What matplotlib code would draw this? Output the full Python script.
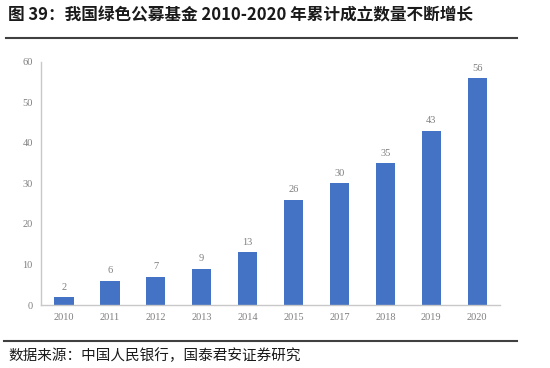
import matplotlib.pyplot as plt
from matplotlib.lines import Line2D

years = ['2010', '2011', '2012', '2013', '2014', '2015', '2017', '2018', '2019', '2020']
counts = [2, 6, 7, 9, 13, 26, 30, 35, 43, 56]
yticks = [0, 10, 20, 30, 40, 50, 60]

title = '图 39：我国绿色公募基金 2010-2020 年累计成立数量不断增长'
source = '数据来源：中国人民银行，国泰君安证券研究'

cjk = ['Noto Sans CJK SC', 'DejaVu Sans']
serif = ['Liberation Serif', 'DejaVu Serif']
grey = '#7f7f7f'

fig = plt.figure(figsize=(5.5, 3.68), dpi=100)
ax = fig.add_axes([0.0745, 0.171, 0.835, 0.661])

x = range(len(years))
bars = ax.bar(x, counts, width=0.42, color='#4472C4', zorder=2)
for xi, v in zip(x, counts):
    ax.text(xi, v + 1.3, str(v), ha='center', va='bottom',
            fontsize=7.5, color=grey, family=serif)

ax.set_xlim(-0.5, len(years) - 0.5)
ax.set_ylim(0, 60)
ax.set_xticks(list(x))
ax.set_xticklabels(years, family=serif, fontsize=7.5, color=grey)
ax.set_yticks(yticks)
ax.set_yticklabels([str(t) for t in yticks], family=serif, fontsize=7.5, color=grey)
ax.tick_params(axis='x', length=0, pad=6)
ax.tick_params(axis='y', length=0, pad=6)

for s in ['top', 'right']:
    ax.spines[s].set_visible(False)
for s in ['left', 'bottom']:
    ax.spines[s].set_color('#c8c8c8')
    ax.spines[s].set_linewidth(1.0)

# title and source with rules
fig.text(0.015, 0.957, title, fontsize=12, fontweight='bold',
         family=cjk, ha='left', va='center', color='#1a1a1a')
fig.add_artist(Line2D([0.011, 0.94], [0.897, 0.897], color='#404040', lw=1.5))
fig.add_artist(Line2D([0.008, 0.94], [0.073, 0.073], color='#404040', lw=1.5))
fig.text(0.015, 0.033, source, fontsize=10.5, family=cjk,
         ha='left', va='center', color='#1a1a1a')

fig.savefig('out.png', dpi=100)
